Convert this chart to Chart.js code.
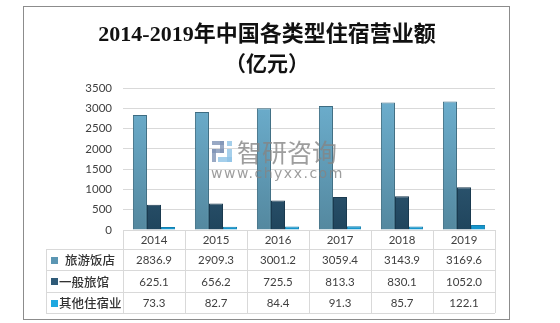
<!DOCTYPE html>
<html>
<head>
<meta charset="utf-8">
<script src="https://cdn.jsdelivr.net/npm/chart.js@4.4.0/dist/chart.umd.min.js"></script>
<style>
  html, body { margin: 0; padding: 0; background: #fff; }
  #wrap { width: 560px; height: 323px; }
</style>
</head>
<body>
<div id="wrap"><canvas id="c" width="560" height="323"></canvas></div>
<script>
// 2014-2019 accommodation revenue by type (100 million yuan)
const years = ['2014', '2015', '2016', '2017', '2018', '2019'];
const hotels = [2836.9, 2909.3, 3001.2, 3059.4, 3143.9, 3169.6];
const inns = [625.1, 656.2, 725.5, 813.3, 830.1, 1052.0];
const others = [73.3, 82.7, 84.4, 91.3, 85.7, 122.1];
const seriesNames = ['旅游饭店', '一般旅馆', '其他住宿业'];
const yTicks = [0, 500, 1000, 1500, 2000, 2500, 3000, 3500];

const titleLines = ['2014-2019年中国各类型住宿营业额', '（亿元）'];

// top / bottom / border / legend swatch colours for each series
const palette = [
  { top: '#6eb1d1', bottom: '#54889f', border: '#3d6c82', swatch: '#5b96b3' },
  { top: '#3f6e8c', bottom: '#20455d', border: '#1a3a4f', swatch: '#2f5b78' },
  { top: '#28b6ee', bottom: '#1595cc', border: '#1380b0', swatch: '#1ea8e0' }
];

function barFill(i) {
  return (ctx) => {
    const chart = ctx.chart;
    const el = ctx.element;
    const ca = chart.chartArea;
    if (!ca) return palette[i].top;
    const top = el && el.y !== undefined ? el.y : ca.top;
    const g = chart.ctx.createLinearGradient(0, top, 0, ca.bottom);
    g.addColorStop(0, palette[i].top);
    g.addColorStop(1, palette[i].bottom);
    return g;
  };
}

const seriesData = [hotels, inns, others];

const tablePlugin = {
  id: 'dataTable',
  afterDatasetsDraw(chart) {
    const ctx = chart.ctx;
    const x = chart.scales.x;
    const ca = chart.chartArea;
    const rowY = [ca.bottom, 249, 270, 292, 313];
    const legendLeft = 46;
    const colW = (ca.right - ca.left) / years.length;

    ctx.save();
    ctx.strokeStyle = '#d9d9d9';
    ctx.lineWidth = 1;
    ctx.beginPath();
    // header top line
    ctx.moveTo(ca.left, rowY[0] + 0.5); ctx.lineTo(ca.right, rowY[0] + 0.5);
    for (let r = 1; r < rowY.length; r++) {
      ctx.moveTo(legendLeft, rowY[r] + 0.5); ctx.lineTo(ca.right, rowY[r] + 0.5);
    }
    // vertical lines
    ctx.moveTo(legendLeft + 0.5, rowY[1]); ctx.lineTo(legendLeft + 0.5, rowY[4]);
    for (let c = 0; c <= years.length; c++) {
      const vx = Math.round(ca.left + c * colW) + 0.5;
      ctx.moveTo(vx, rowY[0]); ctx.lineTo(vx, rowY[4]);
    }
    ctx.stroke();

    ctx.fillStyle = '#404040';
    ctx.textAlign = 'center';
    ctx.textBaseline = 'middle';
    ctx.font = '11.5px Lato, "Liberation Sans", sans-serif';
    years.forEach((yr, i) => {
      const cx = x.getPixelForValue(i);
      ctx.fillText(yr, cx, (rowY[0] + rowY[1]) / 2 + 1);
      seriesData.forEach((arr, s) => {
        ctx.fillText(arr[i].toFixed(1), cx, (rowY[s + 1] + rowY[s + 2]) / 2 + 1);
      });
    });

    // series labels with swatches
    ctx.textAlign = 'left';
    ctx.font = '500 12.5px "Noto Sans CJK SC", sans-serif';
    seriesNames.forEach((name, s) => {
      const cy = (rowY[s + 1] + rowY[s + 2]) / 2;
      ctx.fillStyle = palette[s].swatch;
      ctx.fillRect(51, Math.round(cy) - 3, 7, 7);
      ctx.fillStyle = '#333333';
      ctx.fillText(name, s === 0 ? 65 : 59, cy + 1);
    });
    ctx.restore();
  },
  afterDraw(chart) {
    const ctx = chart.ctx;
    ctx.save();
    // outer frame
    ctx.strokeStyle = '#8c8c8c';
    ctx.lineWidth = 1;
    ctx.strokeRect(23.5, 6.5, 486, 313);

    // title
    ctx.fillStyle = '#111111';
    ctx.textAlign = 'center';
    ctx.textBaseline = 'middle';
    ctx.font = 'bold 22px "Liberation Serif", "Noto Sans CJK SC", serif';
    ctx.fillText(titleLines[0], 267, 35);
    ctx.font = 'bold 21px "Noto Sans CJK SC", serif';
    ctx.fillText(titleLines[1], 267, 63);

    // watermark
    ctx.globalAlpha = 0.8;
    ctx.fillStyle = '#7f93b5';
    // small logo mark
    ctx.fillRect(212, 141, 12, 4);
    ctx.fillRect(220, 141, 4, 12);
    ctx.fillRect(212, 149, 12, 4);
    ctx.fillRect(212, 149, 4, 13);
    ctx.fillStyle = '#8fc3e6';
    ctx.fillRect(227, 141, 5, 5);
    ctx.fillRect(227, 149, 5, 13);
    ctx.fillRect(218, 157, 14, 5);
    ctx.fillStyle = '#858585';
    ctx.font = '25px "Noto Sans CJK SC", sans-serif';
    ctx.textAlign = 'left';
    ctx.fillText('智研咨询', 237, 152);
    ctx.font = '14px "DejaVu Sans", sans-serif';
    if ('letterSpacing' in ctx) ctx.letterSpacing = '1.5px';
    ctx.fillText('www.chyxx.com', 211, 174);
    ctx.restore();
  }
};

new Chart(document.getElementById('c'), {
  type: 'bar',
  data: {
    labels: years,
    datasets: seriesData.map((arr, i) => ({
      label: seriesNames[i],
      data: arr,
      backgroundColor: barFill(i),
      borderColor: palette[i].border,
      borderWidth: 1,
      categoryPercentage: 0.68,
      barPercentage: 1.0
    }))
  },
  options: {
    responsive: false,
    animation: false,
    devicePixelRatio: 1,
    layout: { padding: { left: 0, top: 88, right: 65, bottom: 93 } },
    plugins: { legend: { display: false }, tooltip: { enabled: false }, title: { display: false } },
    scales: {
      x: { display: false },
      y: {
        min: 0,
        max: 3500,
        afterFit(scale) { scale.width = 123; },
        afterBuildTicks(scale) { scale.ticks = yTicks.map(v => ({ value: v })); },
        border: { display: false },
        grid: { color: '#d9d9d9', drawTicks: false },
        ticks: {
          padding: 11,
          color: '#404040',
          font: { family: 'Lato, "Liberation Sans", sans-serif', size: 11.5 },
          callback: (v) => String(v)
        }
      }
    }
  },
  plugins: [tablePlugin]
});
</script>
</body>
</html>
